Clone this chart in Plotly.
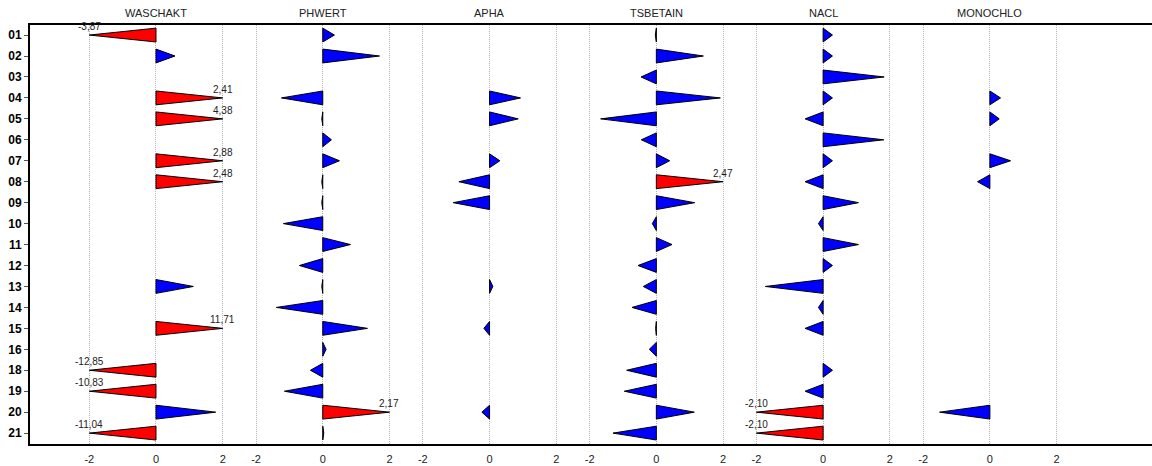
import plotly.graph_objects as go

rows = ["01", "02", "03", "04", "05", "06", "07", "08", "09", "10",
        "11", "12", "13", "14", "15", "16", "18", "19", "20", "21"]
panels = ["WASCHAKT", "PHWERT", "APHA", "TSBETAIN", "NACL", "MONOCHLO"]

N = None
waschakt = [-3.87, 0.57, N, 2.41, 4.38, N, 2.88, 2.48, N, N,
            N, N, 1.12, N, 11.71, N, -12.85, -10.83, 1.79, -11.04]
phwert = [0.35, 1.70, N, -1.24, -0.03, 0.26, 0.50, -0.03, -0.03, -1.18,
          0.83, -0.70, -0.03, -1.39, 1.34, 0.10, -0.37, -1.15, 2.17, 0.03]
apha = [N, N, N, 0.93, 0.86, N, 0.31, -0.92, -1.09, N,
        N, N, 0.10, N, -0.17, N, N, N, -0.23, N]
tsbetain = [-0.03, 1.41, -0.46, 1.92, -1.67, -0.45, 0.40, 2.47, 1.15, -0.12,
            0.47, -0.55, -0.39, -0.73, -0.02, -0.21, -0.89, -0.96, 1.14, -1.30]
nacl = [0.28, 0.28, 1.83, 0.28, -0.54, 1.82, 0.28, -0.54, 1.06, -0.14,
        1.06, 0.28, -1.73, -0.14, -0.54, N, 0.28, -0.54, -2.10, -2.10]
monochlo = [N, N, N, 0.32, 0.28, N, 0.62, -0.37, N, N,
            N, N, N, N, N, N, N, N, -1.51, N]

series = [waschakt, phwert, apha, tsbetain, nacl, monochlo]

PANEL_W = 5.0
LIMIT = 2.0
HALF_H = 0.33
FONT = "Liberation Sans, Arial, Helvetica"

tri = {"blue": ([], []), "red": ([], [])}
labels = []
for p, vals in enumerate(series):
    off = p * PANEL_W
    for r, v in enumerate(vals):
        if v is None:
            continue
        clipped = abs(v) > LIMIT
        tip = max(-LIMIT, min(LIMIT, v))
        key = "red" if clipped else "blue"
        xs, ys = tri[key]
        xs += [off, off + tip, off, off, None]
        ys += [r - HALF_H, r, r + HALF_H, r - HALF_H, None]
        if clipped:
            labels.append((off + tip, r, f"{v:.2f}".replace(".", ",")))

fig = go.Figure()
for key, col in [("blue", "#0000FF"), ("red", "#FF0000")]:
    xs, ys = tri[key]
    fig.add_trace(go.Scatter(x=xs, y=ys, mode="lines", fill="toself",
                             fillcolor=col, line=dict(color="black", width=1),
                             hoverinfo="skip", showlegend=False))

for lx, ly, lt in labels:
    fig.add_annotation(x=lx, y=ly, xref="x", yref="y", text=lt, showarrow=False,
                       yanchor="bottom", xanchor="center", yshift=2, borderpad=0,
                       font=dict(family=FONT, size=10, color="#222"))

tickvals, ticktext = [], []
for p in range(len(panels)):
    for t in (-2, 0, 2):
        tickvals.append(p * PANEL_W + t)
        ticktext.append(str(t))

for p, name in enumerate(panels):
    fig.add_annotation(x=p * PANEL_W, y=1, xref="x", yref="paper",
                       text=name, showarrow=False, yanchor="bottom", yshift=4,
                       font=dict(family=FONT, size=11, color="#222"))

fig.update_layout(
    width=1152, height=466,
    margin=dict(l=30, r=0, t=25, b=22),
    paper_bgcolor="white", plot_bgcolor="white",
    xaxis=dict(range=[-3.777, 29.86], tickvals=tickvals, ticktext=ticktext,
               showgrid=True, gridcolor="#b4b4b4", griddash="1px,1px", gridwidth=1,
               zeroline=False, showline=True, linecolor="black", linewidth=2,
               mirror=True, ticks="", ticklabelstandoff=4,
               tickfont=dict(family=FONT, size=11, color="#222")),
    yaxis=dict(range=[len(rows) - 1 + 0.52, -0.48], tickvals=list(range(len(rows))),
               ticktext=rows, showgrid=False, zeroline=False, showline=True,
               linecolor="black", linewidth=2, ticks="outside", ticklen=4,
               tickcolor="#555",
               tickfont=dict(family=FONT, size=12, color="black", weight="bold")),
)

fig.write_html("out.html")
